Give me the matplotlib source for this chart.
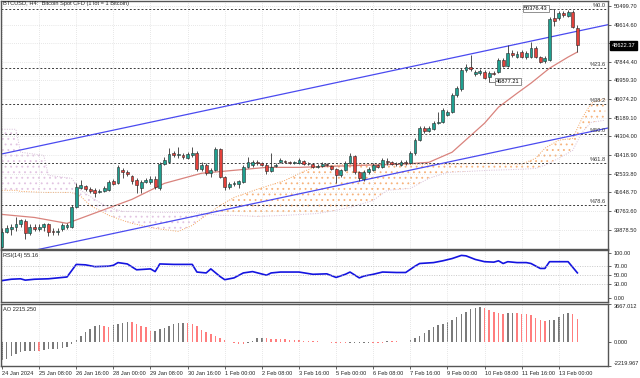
import numpy as np
import matplotlib
matplotlib.use("Agg")
from matplotlib import pyplot as plt
from matplotlib import transforms as mtransforms

plt.rcParams["font.family"] = ["Liberation Sans", "DejaVu Sans"]

# BTCUSD H4 bars, 24 Jan 2024 00:00 .. 13 Feb 2024 16:00
opens = [39070, 39740, 39880, 39980, 40120, 40260, 39690, 40020, 39880, 39980,
         40120, 39830, 39740, 39880, 40020, 39980, 40930, 41830, 41930, 41790,
         41740, 41640, 41690, 41740, 42170, 42070, 42690, 42590, 42400, 42210,
         41830, 42120, 42120, 42260, 41830, 42980, 43070, 43500, 43400, 43400,
         43260, 43400, 43500, 42740, 42930, 42550, 42690, 43690, 42360, 41880,
         42020, 42020, 42120, 42830, 42930, 43070, 43020, 42930, 42640, 42880,
         43070, 43120, 43070, 43020, 43020, 43120, 42980, 42980, 42830, 42880,
         42980, 42880, 42740, 42450, 42690, 43020, 43360, 42590, 42260, 42590,
         42690, 42930, 42830, 43120, 43070, 42980, 42930, 43070, 43020, 43500,
         44120, 44690, 44550, 44640, 44930, 44970, 45310, 45450, 46260, 46540,
         47450, 47590, 47260, 47310, 47350, 47120, 47310, 47350, 47930, 47640,
         48260, 48070, 48310, 48070, 48070, 48500, 48070, 47880, 47930, 49920,
         49920, 50160, 50020, 50210, 49450]
highs = [39930, 40070, 40120, 40450, 40400, 40360, 40120, 40120, 40120, 40210,
         40210, 39930, 39930, 40210, 40170, 41020, 42070, 42210, 41980, 41880,
         41830, 41790, 41930, 42210, 42260, 42930, 42780, 42690, 42450, 42310,
         42210, 42310, 42400, 42400, 43070, 43310, 43740, 43590, 43780, 43500,
         43550, 43780, 43590, 43070, 43020, 42780, 43780, 43740, 42400, 42120,
         42170, 42210, 42930, 43310, 43170, 43170, 43070, 43020, 43500, 43020,
         43260, 43170, 43120, 43120, 43260, 43170, 43070, 43020, 42980, 43070,
         43020, 42930, 42780, 42740, 43120, 43500, 43400, 42640, 42690, 42830,
         43020, 42980, 43260, 43260, 43120, 43070, 43170, 43170, 43590, 44210,
         44780, 44780, 44780, 45020, 45450, 45640, 45550, 46350, 46690, 47540,
         47740, 48160, 47450, 47500, 47450, 47400, 47400, 48020, 48020, 48640,
         48400, 48350, 48400, 48350, 48780, 48590, 48120, 48120, 49970, 50376.43,
         50260, 50260, 50310, 50310, 49590]
lows = [39020, 39690, 39640, 39830, 40020, 39450, 39600, 39790, 39790, 39830,
        39550, 39640, 39640, 39830, 39880, 39930, 40880, 41790, 41690, 41590,
        41400, 41590, 41640, 41690, 41980, 42020, 42310, 42400, 42020, 41590,
        41590, 42070, 42020, 41790, 41740, 42930, 43020, 43310, 43260, 43210,
        43210, 43310, 42640, 42640, 42450, 42360, 42640, 42310, 41740, 41790,
        41930, 41830, 42070, 42780, 42830, 42930, 42880, 42500, 42590, 42830,
        43020, 43020, 42980, 42980, 42980, 42930, 42930, 42780, 42780, 42830,
        42880, 42690, 42070, 42360, 42640, 42980, 42500, 42170, 42170, 42500,
        42640, 42780, 42780, 42930, 42930, 42880, 42880, 42930, 42980, 43400,
        44070, 44450, 44500, 44590, 44880, 44930, 45260, 45400, 46160, 46450,
        47350, 47400, 47160, 47210, 47020, 46877.21, 47210, 47310, 47590, 47590,
        48070, 48020, 48020, 47970, 48020, 48020, 47780, 47780, 47880, 49540,
        49830, 49970, 49970, 49450, 48310]
closes = [39740, 39930, 39980, 40120, 40310, 39690, 40020, 39880, 40020, 40120,
          39740, 39740, 39790, 40070, 40070, 40930, 41880, 41980, 41790, 41690,
          41590, 41690, 41830, 42120, 42020, 42830, 42590, 42500, 42170, 41980,
          42120, 42210, 42260, 41880, 42980, 43170, 43450, 43400, 43450, 43310,
          43450, 43500, 42740, 42930, 42550, 42690, 43690, 42360, 41880, 42020,
          42070, 42170, 42830, 43070, 43070, 43050, 42930, 42640, 42830, 42950,
          43170, 43070, 43050, 43070, 43170, 42980, 43000, 42830, 42880, 42980,
          42930, 42740, 42450, 42690, 43020, 43360, 42590, 42310, 42590, 42740,
          42930, 42830, 43170, 43070, 42980, 43000, 43070, 43020, 43500, 44120,
          44690, 44550, 44690, 44930, 44970, 45550, 45450, 46260, 46590, 47450,
          47590, 47500, 47350, 47400, 47070, 47310, 47280, 47930, 47640, 48260,
          48160, 48210, 48070, 48260, 48500, 48070, 47830, 48020, 49880, 49780,
          50160, 50070, 50210, 49500, 48622.37]

# moving average, read at a few bars
ma_idx = [0, 7, 14, 21, 28, 35, 43, 50, 57, 64, 71, 78, 86, 92, 97, 104, 107, 111, 114, 118, 122, 124]
ma_vals = [40595, 40450, 40170, 40740, 41310, 42070, 42550, 42690, 42830, 42830, 42880,
           42930, 42980, 43070, 43550, 44930, 45690, 46350, 46830, 47540, 48070, 48310]

# ichimoku cloud (senkou span A / B)
cloud_idx = [0, 3, 4, 9, 10, 15, 17, 19, 21, 23, 26, 28, 33, 38, 41, 43, 47, 50, 55, 61,
             65, 68, 72, 75, 80, 83, 88, 92, 96, 105, 112, 115, 117, 120, 123, 125, 127, 130]
span_a = [41740, 41740, 41690, 41640, 41640, 41640, 41450, 41020, 40790, 40550,
          40310, 40170, 39930, 39790, 40070, 40400, 41020, 41400, 41790, 42210,
          42640, 42880, 42930, 42980, 42980, 42980, 42980, 42980, 42980, 43020,
          42980, 43260, 43740, 44120, 44210, 45160, 45880, 46120]
span_b = [44640, 44640, 43550, 43400, 42450, 42310, 41740, 41450, 41170, 40930,
          40740, 40740, 40690, 40690, 40690, 40640, 40550, 40550, 40500, 40550,
          40600, 40640, 40790, 40930, 41260, 41740, 41830, 42310, 42590, 42690,
          42740, 42780, 42930, 43260, 43640, 44500, 44970, 45070]

# regression channel end points and fibonacci retracement
chan_idx = [0, 131]
chan_lower = [38562, 44719]
chan_upper = [43470, 49627]
fib_high = 50376.43
fib_low = 38500
fib_levels = [0.0, 23.6, 38.2, 50.0, 61.8, 78.6]

rsi_idx = [0, 2, 4, 5, 7, 10, 14, 16, 18, 20, 23, 24, 25, 27, 29, 32, 33, 34, 37, 41,
           42, 44, 45, 47, 48, 50, 52, 54, 57, 58, 60, 64, 67, 70, 72, 74, 75, 77, 78, 80,
           82, 85, 87, 88, 89, 90, 93, 95, 97, 99, 100, 102, 104, 106, 107, 108, 109, 111,
           113, 114, 116, 117, 118, 122, 124]
rsi_vals = [38, 41, 42, 39, 41, 42, 46, 74, 73, 69, 70, 72, 78, 75, 62, 64, 58, 75, 74, 74,
            57, 55, 64, 47, 40, 44, 55, 58, 50, 55, 57, 57, 52, 53, 45, 52, 57, 44, 48, 52,
            57, 56, 56, 63, 70, 76, 78, 82, 87, 94, 93, 85, 80, 79, 82, 76, 80, 78,
            78, 76, 65, 65, 80, 80, 55.16]

ao_vals = [-1650, -1544, -1319, -1061, -933, -836, -804, -760, -770, -675,
           -643, -611, -579, -514, -418, -160, 222, 640, 962, 1251,
           1573, 1600, 1509, 1480, 1670, 1766, 1831, 1895, 1880, 1766,
           1573, 1412, 1050, 1122, 1251, 1380, 1509, 1702, 1831, 1863,
           1831, 1702, 1509, 1187, 1026, 769, 608, 447, 222, 30,
           -100, -160, -190, -20, 158, 383, 400, 383, 319, 300,
           287, 280, 270, 230, 222, 158, 126, 110, 90, 60,
           30, -20, -50, -70, -90, -60, -40, -30, -20, -15,
           -50, -70, -80, 110, 100, 90, 80, 70, 222, 383,
           640, 930, 1187, 1445, 1670, 1734, 1895, 2088, 2377, 2635,
           2860, 3117, 3213, 3374, 3278, 3053, 2860, 2750, 2700, 2731,
           2760, 2730, 2699, 2667, 2571, 2313, 2088, 1991, 2088, 2152,
           2410, 2635, 2731, 2699, 2215.25]

price_ticks = [39878.50, 40763.60, 41648.70, 42533.80, 43418.90, 44304.00, 45189.10,
               46074.20, 46959.30, 47844.40, 48729.50, 49614.60, 50499.70]
date_idx = [0, 8, 16, 24, 32, 40, 48, 56, 64, 72, 80, 88, 96, 104, 112, 120]
date_labels = ["24 Jan 2024", "25 Jan 08:00", "26 Jan 16:00", "28 Jan 00:00", "29 Jan 08:00",
               "30 Jan 16:00", "1 Feb 00:00", "2 Feb 08:00", "3 Feb 16:00", "5 Feb 00:00",
               "6 Feb 08:00", "7 Feb 16:00", "9 Feb 00:00", "10 Feb 08:00", "11 Feb 16:00",
               "13 Feb 00:00"]

W, H = 640, 378
FS = 4.1
fig = plt.figure(figsize=(W / 100, H / 100), dpi=100)


def px_axes(x0, y0, x1, y1):
    return fig.add_axes([x0 / W, 1 - y1 / H, (x1 - x0) / W, (y1 - y0) / H])


ax = px_axes(1, 0.5, 608, 248.5)
rsiAx = px_axes(1, 250, 608, 302)
aoAx = px_axes(1, 303.5, 608, 366)

for a in (ax, rsiAx, aoAx):
    a.set_xlim(-0.22, 130.6)
    a.set_xticks(date_idx)
    a.tick_params(axis="x", bottom=False, labelbottom=False)
    a.tick_params(axis="y", left=False, labelleft=False, right=True, labelright=True,
                  length=2.5, width=0.5, pad=1.5, labelsize=FS, colors="#222222")
    a.grid(axis="x", color="#d0d0d0", ls=(0, (1, 2)), lw=0.5)
    for s in a.spines.values():
        s.set_color("#555555")
        s.set_linewidth(1.0)

# --- main price panel ---
idx = np.arange(len(closes))
o, h, l, c = (np.array(v, dtype=float) for v in (opens, highs, lows, closes))
up = c >= o

ca, cb, ci = np.array(span_a), np.array(span_b), np.array(cloud_idx)
plt.rcParams["hatch.linewidth"] = 0.6
ax.fill_between(ci, ca, cb, where=ca >= cb, interpolate=True, facecolor="none",
                edgecolor="#f7b27a", hatch="...", linewidth=0, zorder=1)
ax.fill_between(ci, ca, cb, where=ca < cb, interpolate=True, facecolor="none",
                edgecolor="#e2c4e2", hatch="...", linewidth=0, zorder=1)
ax.plot(ci, ca, color="#f4a460", lw=0.7, ls=(0, (1, 1.5)), zorder=1)
ax.plot(ci, cb, color="#d8bfd8", lw=0.7, ls=(0, (1, 1.5)), zorder=1)

ax.plot(ma_idx, ma_vals, color="#d9837d", lw=0.9, zorder=2)

for lvl in fib_levels:
    p = fib_high - (fib_high - fib_low) * lvl / 100
    ax.axhline(p, color="#3a3a3a", lw=0.7, ls=(0, (2, 2)), zorder=2)
    ax.text(130.2, p + 40, "%" + f"{lvl:.1f}", ha="right", va="bottom", fontsize=FS, color="#333333")

ax.plot(chan_idx, chan_lower, color="#4a4af0", lw=0.9, zorder=2)
ax.plot(chan_idx, chan_upper, color="#4a4af0", lw=0.9, zorder=2)

ax.vlines(idx, l, h, color="#333333", lw=0.6, zorder=3)
ax.bar(idx, np.maximum(np.abs(c - o), 15), bottom=np.minimum(o, c), width=0.62,
       color=np.where(up, "#1fa090", "#e3413b"), edgecolor="#2b2b2b", linewidth=0.4, zorder=4)

ax.set_ylim(38976, 50757)
ax.set_yticks(price_ticks)
ax.set_yticklabels(["" if abs(t - 48729.5) < 1 else f"{t:.2f}" for t in price_ticks])
ax.grid(axis="y", color="#d0d0d0", ls=(0, (1, 2)), lw=0.5)

ax.text(0.004, 0.997, "BTCUSD, H4:  Bitcoin Spot CFD (1 lot = 1 Bitcoin)", transform=ax.transAxes,
        ha="left", va="top", fontsize=FS, color="#222222")

box = dict(boxstyle="square,pad=0.2", fc="white", ec="#666666", lw=0.5)
ax.plot([118.2, 119], [highs[119], highs[119]], color="#555555", lw=0.5, zorder=5)
ax.text(115.1, highs[119], f"{highs[119]:.2f}", ha="center", va="center", fontsize=FS, bbox=box, zorder=6)
ax.plot([105, 106.6], [lows[105], lows[105]], color="#555555", lw=0.5, zorder=5)
ax.text(109.0, lows[105] + 20, f"{lows[105]:.2f}", ha="center", va="center", fontsize=FS, bbox=box, zorder=6)

blend = mtransforms.blended_transform_factory(ax.transAxes, ax.transData)
ax.text(1.006, closes[-1], f"{closes[-1]:.2f}", transform=blend, ha="left", va="center",
        fontsize=FS, color="white", bbox=dict(boxstyle="square,pad=0.3", fc="black", ec="black"),
        clip_on=False, zorder=7)

# --- RSI panel ---
rsiAx.plot(rsi_idx, rsi_vals, color="#1414e0", lw=1.2)
for lv in (70, 50, 30):
    rsiAx.axhline(lv, color="#b8b8b8", lw=0.5, ls=(0, (1.5, 2)))
rsiAx.set_ylim(-9.6, 106)
rsiAx.set_yticks([0, 30, 50, 70, 100])
rsiAx.set_yticklabels([f"{v:.2f}" for v in (0, 30, 50, 70, 100)])
rsiAx.text(0.004, 0.95, f"RSI(14) {rsi_vals[-1]:.2f}", transform=rsiAx.transAxes,
           ha="left", va="top", fontsize=FS, color="#222222")

# --- Awesome oscillator panel ---
ao = np.array(ao_vals)
rising = np.concatenate([[True], ao[1:] > ao[:-1]])
aoAx.bar(idx, ao, width=0.32, color=np.where(rising, "#7a7a7a", "#ff7d7d"))
ao_lo, ao_hi = -2219.967, 3667.012
aoAx.set_ylim(ao_lo, ao_hi)
aoAx.set_yticks([ao_lo, 0, ao_hi])
aoAx.set_yticklabels([f"{v:.3f}" for v in (ao_lo, 0, ao_hi)])
labs = aoAx.get_yticklabels()
labs[0].set_va("bottom")
labs[2].set_va("top")
aoAx.text(0.004, 0.95, f"AO {ao_vals[-1]:.3f}", transform=aoAx.transAxes,
          ha="left", va="top", fontsize=FS, color="#222222")

aoAx.tick_params(axis="x", bottom=True, labelbottom=True, length=2.5, width=0.5, pad=1,
                 labelsize=FS, colors="#222222")
aoAx.set_xticklabels(date_labels)
for t in aoAx.get_xticklabels():
    t.set_horizontalalignment("left")

fig.savefig("out.png", dpi=100, facecolor="white")
